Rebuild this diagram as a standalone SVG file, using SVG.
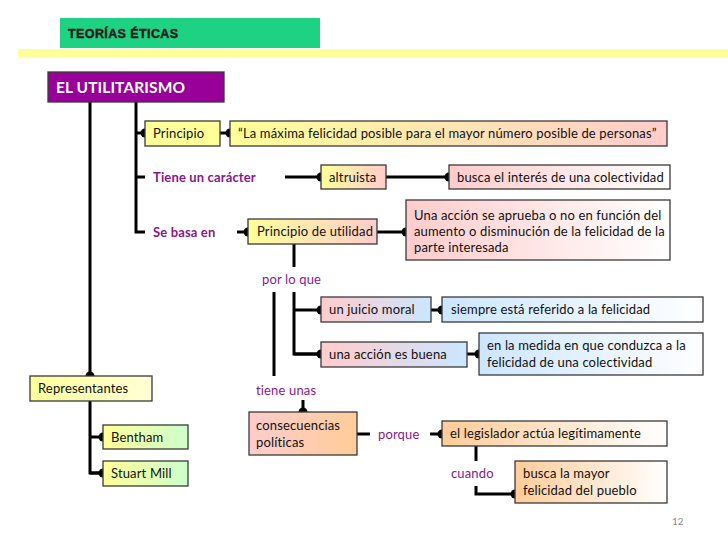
<svg xmlns="http://www.w3.org/2000/svg" width="728" height="546" viewBox="0 0 728 546">
<defs>
<linearGradient id="gYY"><stop offset="0" stop-color="#ffff99"/><stop offset="1" stop-color="#ffffd6"/></linearGradient>
<linearGradient id="gYP"><stop offset="0" stop-color="#ffff99"/><stop offset="1" stop-color="#ffcccc"/></linearGradient>
<linearGradient id="gPW"><stop offset="0" stop-color="#ffcccc"/><stop offset="1" stop-color="#ffffff"/></linearGradient>
<linearGradient id="gPB"><stop offset="0" stop-color="#ffcccc"/><stop offset="1" stop-color="#cce6ff"/></linearGradient>
<linearGradient id="gBW"><stop offset="0" stop-color="#cce6ff"/><stop offset="1" stop-color="#ffffff"/></linearGradient>
<linearGradient id="gPO"><stop offset="0" stop-color="#ffcccc"/><stop offset="1" stop-color="#ffcc99"/></linearGradient>
<linearGradient id="gOW"><stop offset="0" stop-color="#ffcc99"/><stop offset="1" stop-color="#ffffff"/></linearGradient>
<linearGradient id="gYG"><stop offset="0" stop-color="#ffff99"/><stop offset="1" stop-color="#ccffcc"/></linearGradient>
<marker id="plug" markerUnits="userSpaceOnUse" viewBox="-6 -6 12 12" markerWidth="12" markerHeight="12" refX="0" refY="0" orient="auto">
<path d="M0,-4.5 A4.5,4.5 0 0,0 0,4.5 Z" fill="#000"/>
</marker>
</defs>
<style>
.box{stroke:#3a3a3a;stroke-width:1.3}
.t{font-family:Lato,"Open Sans","Liberation Sans",sans-serif;font-size:13px;fill:#111;letter-spacing:0.15px}
.lab{font-family:Lato,"Open Sans","Liberation Sans",sans-serif;font-size:13px;fill:#8b168b;letter-spacing:0.15px}
.b{font-weight:bold}
.c{fill:none;stroke:#000;stroke-width:3}
.m{marker-end:url(#plug)}
</style>
<rect width="728" height="546" fill="#ffffff"/>
<g id="header">
<rect x="60" y="18" width="260" height="30" fill="#1dd283"/>
<text x="68" y="38" font-family="'Liberation Sans',Arial,sans-serif" font-size="12.5" font-weight="bold" letter-spacing="0.4" stroke="#1a1a1a" stroke-width="0.4" fill="#1a1a1a">TEORÍAS ÉTICAS</text>
<rect x="18" y="49" width="710" height="8" fill="#ffff99"/>
</g>
<g id="connectors">
<path class="c m" d="M90,102 V376"/>
<path class="c" d="M136,102 V232 H145"/>
<path class="c m" d="M136,133 H145"/>
<path class="c" d="M136,177 H145"/>
<path class="c m" d="M220,133 H230"/>
<path class="c m" d="M285,177 H321"/>
<path class="c m" d="M386,177 H449"/>
<path class="c m" d="M237,232 H248"/>
<path class="c m" d="M377,232 H406"/>
<path class="c" d="M294,244 V267"/>
<path class="c" d="M294,292 V354 H321"/>
<path class="c m" d="M294,310 H321"/>
<path class="c m" d="M294,354 H321"/>
<path class="c" d="M274,292 V376"/>
<path class="c m" d="M431,310 H442"/>
<path class="c m" d="M467,354 H479"/>
<path class="c m" d="M303,400 V412"/>
<path class="c" d="M357,434 H370"/>
<path class="c m" d="M430,434 H442"/>
<path class="c" d="M476,446 V461"/>
<path class="c m" d="M476,486 V494 H515"/>
<path class="c" d="M90,401 V473 H103"/>
<path class="c m" d="M90,437 H103"/>
<path class="c m" d="M90,473 H103"/>
</g>
<g id="utilitarismo">
<rect x="48" y="72" width="176" height="30" fill="#990099" class="box"/>
<text x="56" y="93" font-family="Lato,'Open Sans',sans-serif" font-size="15.5" font-weight="bold" letter-spacing="0.1" fill="#ffffff">EL UTILITARISMO</text>
</g>
<g id="principio"><rect x="145" y="121" width="75" height="25" fill="#ffff99" class="box"/><text class="t" x="153" y="138">Principio</text></g>
<g id="cita"><rect x="230" y="121" width="437" height="25" fill="url(#gYP)" class="box"/><text class="t" x="238" y="138">“La máxima felicidad posible para el mayor número posible de personas”</text></g>
<g id="tiene-caracter"><text class="lab b" x="153" y="182">Tiene un carácter</text></g>
<g id="altruista"><rect x="321" y="165" width="65" height="24" fill="url(#gYP)" class="box"/><text class="t" x="329" y="182">altruista</text></g>
<g id="busca-interes"><rect x="449" y="165" width="221" height="24" fill="url(#gPW)" class="box"/><text class="t" x="457" y="182">busca el interés de una colectividad</text></g>
<g id="se-basa"><text class="lab b" x="153" y="237">Se basa en</text></g>
<g id="principio-utilidad"><rect x="248" y="219" width="129" height="25" fill="url(#gYP)" class="box"/><text class="t" x="257" y="236">Principio de utilidad</text></g>
<g id="una-accion-aprueba"><rect x="406" y="200" width="264" height="60" fill="url(#gPW)" class="box"/><text class="t" x="414" y="220">Una acción se aprueba o no en función del</text><text class="t" x="414" y="236">aumento o disminución de la felicidad de la</text><text class="t" x="414" y="252">parte interesada</text></g>
<g id="por-lo-que"><text class="lab" x="262" y="284">por lo que</text></g>
<g id="juicio-moral"><rect x="321" y="297" width="110" height="25" fill="url(#gPB)" class="box"/><text class="t" x="329" y="314">un juicio moral</text></g>
<g id="siempre"><rect x="442" y="297" width="261" height="25" fill="url(#gBW)" class="box"/><text class="t" x="451" y="314">siempre está referido a la felicidad</text></g>
<g id="accion-buena"><rect x="321" y="342" width="146" height="25" fill="url(#gPB)" class="box"/><text class="t" x="329" y="359">una acción es buena</text></g>
<g id="en-la-medida"><rect x="479" y="333" width="224" height="42" fill="url(#gBW)" class="box"/><text class="t" x="487" y="350">en la medida en que conduzca a la</text><text class="t" x="487" y="367">felicidad de una colectividad</text></g>
<g id="tiene-unas"><text class="lab" x="256" y="395">tiene unas</text></g>
<g id="consecuencias"><rect x="249" y="412" width="108" height="43" fill="url(#gPO)" class="box"/><text class="t" x="256" y="430">consecuencias</text><text class="t" x="256" y="447">políticas</text></g>
<g id="porque"><text class="lab" x="378" y="439">porque</text></g>
<g id="legislador"><rect x="442" y="421" width="225" height="25" fill="url(#gOW)" class="box"/><text class="t" x="450" y="438">el legislador actúa legítimamente</text></g>
<g id="cuando"><text class="lab" x="451" y="478">cuando</text></g>
<g id="busca-mayor"><rect x="515" y="461" width="152" height="42" fill="url(#gOW)" class="box"/><text class="t" x="523" y="478">busca la mayor</text><text class="t" x="523" y="495">felicidad del pueblo</text></g>
<g id="representantes"><rect x="30" y="376" width="122" height="25" fill="url(#gYY)" class="box"/><text class="t" x="38" y="393">Representantes</text></g>
<g id="bentham"><rect x="103" y="425" width="85" height="24" fill="url(#gYG)" class="box"/><text class="t" x="111" y="442">Bentham</text></g>
<g id="stuart-mill"><rect x="103" y="461" width="85" height="25" fill="url(#gYG)" class="box"/><text class="t" x="111" y="478">Stuart Mill</text></g>
<g id="pagina"><text x="672" y="525" font-family="Lato,'Open Sans',sans-serif" font-size="10" fill="#8a8a8a">12</text></g>
</svg>
